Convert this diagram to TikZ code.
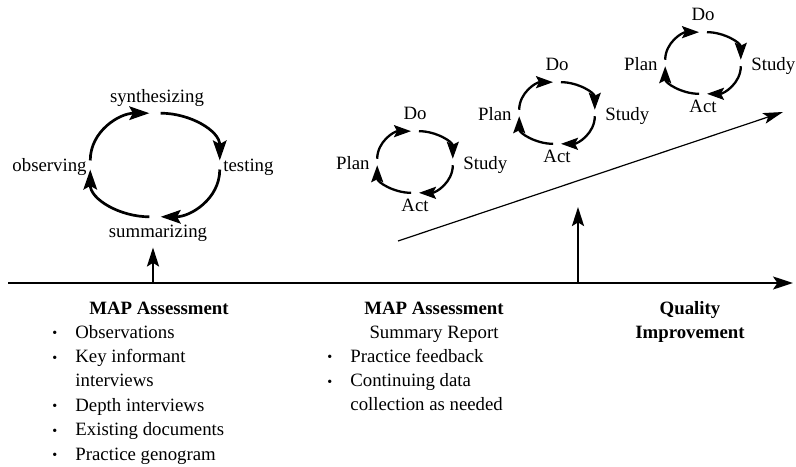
\documentclass[tikz,border=0pt]{standalone}
\usepackage{fontspec}
\setmainfont{Liberation Serif}
\usetikzlibrary{arrows.meta,calc,positioning}
\tikzset{
  lbl/.style={inner sep=0pt},
  cyc/.style={-{Stealth[length=8.5pt,width=6pt,inset=1.5pt]}, line width=1.15pt},
  bigcyc/.style={-{Stealth[length=10pt,width=6.8pt,inset=1.8pt]}, line width=1.35pt},
  timeline/.style={-{Stealth[length=10pt,width=6.5pt,inset=2.2pt]}, line width=0.9pt},
  uparrow/.style={-{Stealth[length=9.5pt,width=6pt,inset=1.8pt]}, line width=1.2pt},
  trend/.style={-{Stealth[length=10pt,width=5.5pt,inset=2.2pt]}, line width=0.6pt},
}
\newcommand\listdot{\raisebox{0.2pt}{\scalebox{0.75}{\textbullet}}}
% one Plan-Do-Study-Act loop: #1 = name, #2 = centre
\newcommand\pdsacycle[2]{%
  \coordinate (#1) at (#2);
  \coordinate (#1-a) at ($(#1)+(174:38 and 31)$);
  \coordinate (#1-b) at ($(#1)+(96:38 and 31)$);
  \coordinate (#1-c) at ($(#1)+(84:38 and 31)$);
  \coordinate (#1-d) at ($(#1)+(6:38 and 31)$);
  \coordinate (#1-e) at ($(#1)+(-6:38 and 31)$);
  \coordinate (#1-f) at ($(#1)+(-84:38 and 31)$);
  \coordinate (#1-g) at ($(#1)+(-96:38 and 31)$);
  \coordinate (#1-h) at ($(#1)+(-174:38 and 31)$);
  \node[lbl, anchor=base] (#1-do) at ($(#1)+(0,42)$) {Do};
  \node[lbl, anchor=base east] (#1-plan) at ($(#1)+(-45,-8)$) {Plan};
  \node[lbl, anchor=base west] (#1-study) at ($(#1)+(48,-8)$) {Study};
  \node[lbl, anchor=base] (#1-act) at ($(#1)+(0,-50)$) {Act};
  \draw[cyc] (#1-a) to[out=90,in=180] (#1-b);
  \draw[cyc] (#1-c) to[out=0,in=90] (#1-d);
  \draw[cyc] (#1-e) to[out=-90,in=0] (#1-f);
  \draw[cyc] (#1-g) to[out=180,in=-90] (#1-h);
}

\begin{document}
\begin{tikzpicture}[x=0.5pt, y=0.5pt, font=\fontsize{9.4}{12.2}\selectfont]
\useasboundingbox (0,0) rectangle (796,466);

% time line
\coordinate (ax-l) at (8,183);
\coordinate (ax-r) at (793,183);
\draw[timeline] (ax-l) -- (ax-r);

% assessment loop
\coordinate (big) at (155,301);
\coordinate (big-a) at ($(big)+(175:65 and 52)$);
\coordinate (big-b) at ($(big)+(95:65 and 52)$);
\coordinate (big-c) at ($(big)+(85:65 and 52)$);
\coordinate (big-d) at ($(big)+(5:65 and 52)$);
\coordinate (big-e) at ($(big)+(-5:65 and 52)$);
\coordinate (big-f) at ($(big)+(-85:65 and 52)$);
\coordinate (big-g) at ($(big)+(-95:65 and 52)$);
\coordinate (big-h) at ($(big)+(-175:65 and 52)$);
\node[lbl, anchor=base] (big-n) at ($(big)+(2,62)$) {synthesizing};
\node[lbl, anchor=base east] (big-w) at ($(big)+(-68,-7)$) {observing};
\node[lbl, anchor=base west] (big-e-lbl) at ($(big)+(68,-7)$) {testing};
\node[lbl, anchor=base] (big-s) at ($(big)+(3,-73)$) {summarizing};
\draw[bigcyc] (big-a) to[out=90,in=180] (big-b);
\draw[bigcyc] (big-c) to[out=0,in=90] (big-d);
\draw[bigcyc] (big-e) to[out=-90,in=0] (big-f);
\draw[bigcyc] (big-g) to[out=180,in=-90] (big-h);

\coordinate (m1) at (153,183);
\draw[uparrow, shorten >=2.5pt] (m1) -- (m1 |- big-s.south);

% improvement cycles along the trend
\pdsacycle{pdsa1}{415,304}
\pdsacycle{pdsa2}{557,353}
\pdsacycle{pdsa3}{703,403}

\coordinate (trend-a) at (398,225);
\coordinate (trend-b) at (783,354);
\draw[trend] (trend-a) -- (trend-b);

\coordinate (m2) at (578,183);
\coordinate (m2-top) at (578,259);
\draw[uparrow] (m2) -- (m2-top);

% texts under the time line
\node[lbl, anchor=base] (head1) at (159,152) {\textbf{MAP Assessment}};
\node[lbl, anchor=base west] (list1) at (52,128) {%
  \begin{tabular}[t]{@{}p{11.5pt}@{}l@{}}
  \listdot & Observations\\
  \listdot & Key informant\\
           & interviews\\
  \listdot & Depth interviews\\
  \listdot & Existing documents\\
  \listdot & Practice genogram
  \end{tabular}};

\node[lbl, anchor=base] (head2) at (434,152) {%
  \begin{tabular}[t]{@{}c@{}}
  \textbf{MAP Assessment}\\
  Summary Report
  \end{tabular}};
\node[lbl, anchor=base west] (list2) at (327,104) {%
  \begin{tabular}[t]{@{}p{11.5pt}@{}l@{}}
  \listdot & Practice feedback\\
  \listdot & Continuing data\\
           & collection as needed
  \end{tabular}};

\node[lbl, anchor=base] (head3) at (690,152) {%
  \begin{tabular}[t]{@{}c@{}}
  \textbf{Quality}\\
  \textbf{Improvement}
  \end{tabular}};
\end{tikzpicture}
\end{document}
